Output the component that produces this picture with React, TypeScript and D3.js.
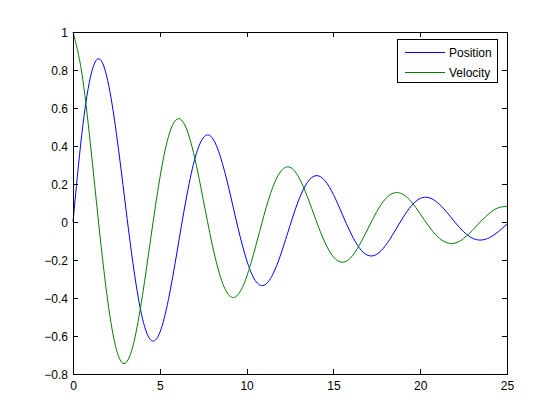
import React from "react";
import * as d3 from "d3";

const times: number[] = [
  0, 0.5, 1, 1.5, 2, 2.5, 3, 3.5, 4, 4.5, 5, 5.5, 6, 6.5, 7, 7.5, 8, 8.5, 9, 9.5,
  10, 10.5, 11, 11.5, 12, 12.5, 13, 13.5, 14, 14.5, 15, 15.5, 16, 16.5, 17, 17.5,
  18, 18.5, 19, 19.5, 20, 20.5, 21, 21.5, 22, 22.5, 23, 23.5, 24, 24.5, 25,
];

const position: number[] = [
  0, 0.456, 0.761, 0.859, 0.744, 0.466, 0.105, -0.247, -0.507, -0.623, -0.582,
  -0.407, -0.153, 0.112, 0.326, 0.443, 0.445, 0.341, 0.168, -0.029, -0.2, -0.308,
  -0.333, -0.277, -0.162, -0.019, 0.115, 0.208, 0.244, 0.219, 0.145, 0.043,
  -0.058, -0.137, -0.176, -0.17, -0.124, -0.054, 0.022, 0.086, 0.124, 0.128,
  0.102, 0.055, -0.001, -0.051, -0.085, -0.095, -0.082, -0.051, -0.011,
];

const velocity: number[] = [
  1, 0.789, 0.413, -0.025, -0.415, -0.671, -0.744, -0.635, -0.387, -0.072, 0.23,
  0.45, 0.542, 0.499, 0.342, 0.119, -0.11, -0.291, -0.387, -0.383, -0.289, -0.136,
  0.035, 0.181, 0.27, 0.288, 0.236, 0.133, 0.009, -0.105, -0.184, -0.212, -0.188,
  -0.121, -0.033, 0.055, 0.122, 0.153, 0.146, 0.105, 0.043, -0.023, -0.077,
  -0.108, -0.111, -0.087, -0.045, 0.004, 0.047, 0.075, 0.082,
];

const xTicks: number[] = [0, 5, 10, 15, 20, 25];
const yTicks: number[] = [-0.8, -0.6, -0.4, -0.2, 0, 0.2, 0.4, 0.6, 0.8, 1];
const seriesNames: string[] = ["Position", "Velocity"];
const seriesColors: string[] = ["#0000ff", "#008000"];

const W = 560;
const H = 420;
const L = 73;
const R = 507;
const T = 32;
const B = 374;
const TICK = 5;
const FS = 12;
const FONT = "'Liberation Sans', Arial, Helvetica, sans-serif";

export default function App() {
  const x = d3.scaleLinear().domain([0, 25]).range([L, R]);
  const y = d3.scaleLinear().domain([-0.8, 1]).range([B, T]);
  const line = d3
    .line<number>()
    .x((_, i) => x(times[i]))
    .y((d) => y(d))
    .curve(d3.curveNatural);
  const series = [position, velocity];

  return (
    <svg
      width={W}
      height={H}
      style={{ position: "absolute", left: 0, top: 0, background: "#fff" }}
      fontFamily={FONT}
    >
      <rect x={0} y={0} width={W} height={H} fill="#fff" />
      {series.map((s, k) => (
        <path
          key={k}
          d={line(s) || ""}
          fill="none"
          stroke={seriesColors[k]}
          strokeWidth={1}
        />
      ))}
      <g shapeRendering="crispEdges" stroke="#000" strokeWidth={1}>
        <rect x={L + 0.5} y={T + 0.5} width={R - L} height={B - T} fill="none" />
        {xTicks.map((t) => (
          <g key={"x" + t}>
            <line x1={Math.round(x(t)) + 0.5} x2={Math.round(x(t)) + 0.5} y1={B} y2={B - TICK} />
            <line x1={Math.round(x(t)) + 0.5} x2={Math.round(x(t)) + 0.5} y1={T} y2={T + TICK} />
          </g>
        ))}
        {yTicks.map((t) => (
          <g key={"y" + t}>
            <line x1={L} x2={L + TICK} y1={Math.round(y(t)) + 0.5} y2={Math.round(y(t)) + 0.5} />
            <line x1={R} x2={R - TICK} y1={Math.round(y(t)) + 0.5} y2={Math.round(y(t)) + 0.5} />
          </g>
        ))}
      </g>
      {xTicks.map((t) => (
        <text key={"xl" + t} x={x(t) + 0.5} y={B + 16} fontSize={FS} textAnchor="middle" fill="#000">
          {t}
        </text>
      ))}
      {yTicks.map((t) => (
        <text
          key={"yl" + t}
          x={L - 5}
          y={y(t) + 4.5}
          fontSize={FS}
          textAnchor="end"
          fill="#000"
        >
          {d3.format("")(+t.toFixed(1))}
        </text>
      ))}
      <g>
        <rect x={397.5} y={39.5} width={100} height={43} fill="#fff" stroke="#000" shapeRendering="crispEdges" />
        {seriesNames.map((n, k) => (
          <g key={n}>
            <line
              x1={405}
              x2={445}
              y1={52 + k * 20}
              y2={52 + k * 20}
              stroke={seriesColors[k]}
              strokeWidth={1}
              shapeRendering="crispEdges"
            />
            <text x={449} y={56.5 + k * 20} fontSize={FS} fill="#000">
              {n}
            </text>
          </g>
        ))}
      </g>
    </svg>
  );
}
